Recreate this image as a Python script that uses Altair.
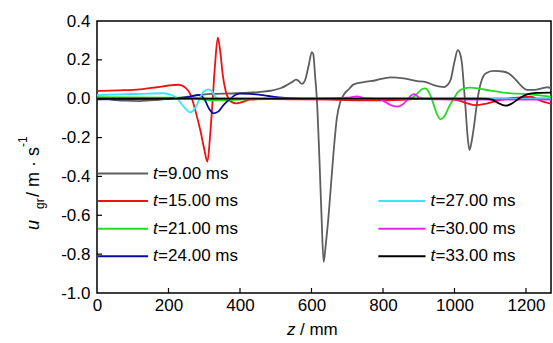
import altair as alt
import pandas as pd

# ---- data ----
labels = ["9.00", "15.00", "21.00", "24.00", "27.00", "30.00", "33.00"]
colors = ["#5e5e5e", "#ee1111", "#22dd22", "#0a0aa8", "#33e8f8", "#ee22ee", "#000000"]

z9 = [0, 40, 74, 120, 167, 214, 260, 317, 391, 450, 485, 515, 531, 545, 557, 565, 573, 582, 592, 601, 605, 610, 615,
      622, 628, 634, 640, 647, 653, 662, 671, 680, 690, 705, 718, 746, 780, 821, 858, 896, 920, 942, 960, 970, 980,
      989, 1000, 1009, 1016, 1021, 1026, 1031, 1036, 1042, 1048, 1054, 1061, 1068, 1077, 1087, 1110, 1135, 1152,
      1165, 1176, 1190, 1203, 1220, 1232, 1250, 1260, 1270]
v9 = [0.007, -0.004, -0.010, -0.012, -0.007, 0.002, 0.012, 0.025, 0.028, 0.034, 0.041, 0.055, 0.07, 0.085, 0.098,
      0.09, 0.076, 0.095, 0.17, 0.24, 0.23, 0.12, 0.0,
      -0.3, -0.6, -0.84, -0.75, -0.62, -0.48, -0.27, -0.10, -0.02, 0.02, 0.05, 0.074, 0.085, 0.095, 0.11, 0.105,
      0.091, 0.085, 0.07, 0.062, 0.06, 0.07,
      0.096, 0.19, 0.25, 0.23, 0.18, 0.07, -0.05, -0.18, -0.264, -0.22, -0.15, -0.05, 0.036, 0.10, 0.13, 0.143,
      0.14, 0.13, 0.11, 0.088, 0.06, 0.045, 0.045, 0.048, 0.056, 0.059, 0.053]

z15 = [0, 60, 120, 167, 200, 228, 245, 262, 275, 290, 300, 309, 316, 323, 330, 338, 345, 352, 360, 368, 380, 391,
       405, 428, 470, 550, 650, 720, 800, 870, 905, 950, 1000, 1030, 1059, 1090, 1137, 1175, 1213, 1240, 1270]
v15 = [0.04, 0.043, 0.048, 0.059, 0.068, 0.072, 0.06, 0.02, -0.06, -0.17, -0.26, -0.324, -0.2, -0.02, 0.17, 0.314,
       0.24, 0.12, 0.04, 0.0, -0.02, -0.024, -0.018, -0.005, -0.002, -0.003, -0.004, -0.008, -0.008, -0.004, 0.0,
       -0.002, -0.005, -0.02, -0.033, -0.025, -0.003, 0.005, 0.01, -0.01, -0.027]

z21 = [0, 200, 280, 300, 330, 360, 400, 450, 500, 600, 700, 800, 860, 880, 895, 910, 918, 928, 940, 950, 961, 972,
       985, 998, 1010, 1025, 1045, 1070, 1100, 1138, 1175, 1213, 1249, 1270]
v21 = [0.008, 0.006, 0.003, -0.006, -0.008, -0.008, -0.005, -0.002, 0.0, 0.0, 0.0, 0.0, 0.0, 0.004, 0.025, 0.05,
       0.053, 0.035, -0.02, -0.075, -0.105, -0.09, -0.04, 0.0, 0.035, 0.052, 0.057, 0.052, 0.042, 0.031, 0.026,
       0.023, 0.015, 0.01]

z24 = [0, 100, 200, 260, 284, 300, 313, 326, 340, 355, 373, 390, 400, 430, 457, 480, 503, 540, 600, 800, 1000,
       1270]
v24 = [-0.003, -0.002, 0.0, 0.01, 0.02, 0.0, -0.05, -0.075, -0.065, -0.03, 0.0, 0.022, 0.026, 0.025, 0.02, 0.014,
       0.008, 0.003, 0.0, 0.0, 0.0, 0.0]

z27 = [0, 60, 120, 185, 209, 225, 240, 252, 260, 268, 280, 292, 300, 312, 320, 328, 335, 350, 400, 600, 900, 1270]
v27 = [0.019, 0.022, 0.025, 0.028, 0.019, 0.0, -0.035, -0.06, -0.07, -0.063, -0.03, 0.02, 0.04, 0.048, 0.04, 0.02,
       0.003, 0.0, 0.0, 0.0, 0.0, 0.0]

z30 = [0, 300, 600, 700, 727, 750, 790, 805, 820, 839, 855, 868, 878, 886, 895, 905, 950, 1000, 1100, 1200, 1270]
v30 = [0.002, 0.0, 0.0, 0.005, 0.012, 0.003, -0.002, -0.015, -0.032, -0.041, -0.03, -0.005, 0.015, 0.024, 0.015,
       0.0, -0.003, -0.004, -0.005, -0.005, -0.005]

z33 = [0, 300, 600, 900, 1000, 1080, 1105, 1120, 1143, 1160, 1180, 1203, 1230, 1270]
v33 = [0.0, 0.0, 0.0, 0.0, 0.0, 0.0, -0.005, -0.02, -0.036, -0.025, 0.0, 0.022, 0.03, 0.031]

series_z = [z9, z15, z21, z24, z27, z30, z33]
series_v = [v9, v15, v21, v24, v27, v30, v33]

x_ticks = [0, 200, 400, 600, 800, 1000, 1200]
y_ticks = [-1.0, -0.8, -0.6, -0.4, -0.2, 0.0, 0.2, 0.4]

FONT = "Liberation Sans"
FS = 17
W, H = 454, 272
XDOM = [0, 1270]
YDOM = [-1.0, 0.4]

xscale = alt.Scale(domain=XDOM, nice=False, zero=False)
yscale = alt.Scale(domain=YDOM, nice=False, zero=False)

xaxis = alt.Axis(values=x_ticks, format="d", ticks=False, domain=False, grid=False, title=None, labelFont=FONT,
                 labelFontSize=FS, labelColor="black", labelPadding=4, labelFlush=False)
yaxis = alt.Axis(values=y_ticks, ticks=False, domain=False, grid=False, title=None, labelFont=FONT,
                 labelFontSize=FS, labelColor="black", labelPadding=7,
                 labelExpr="datum.value < -0.0001 ? '-' + format(-datum.value, '.1f') : format(abs(datum.value), '.1f')")


def X(field):
    return alt.X(field, scale=xscale, axis=xaxis)


def Y(field):
    return alt.Y(field, scale=yscale, axis=yaxis)


layers = []
for i, (zs, vs) in enumerate(zip(series_z, series_v)):
    df = pd.DataFrame({"z": zs, "v": vs})
    layers.append(alt.Chart(df).mark_line(interpolate="monotone", strokeWidth=1.8, clip=True,
                                          color=colors[i]).encode(x=X("z:Q"), y=Y("v:Q"), order="z:Q"))

# inward tick marks
xt = pd.DataFrame({"t": x_ticks[1:]})
layers.append(alt.Chart(xt).mark_rule(color="black", strokeWidth=1.2).encode(
    x=X("t:Q"), y=alt.value(H), y2=alt.value(H - 5)))
yt = pd.DataFrame({"t": y_ticks[1:-1]})
layers.append(alt.Chart(yt).mark_rule(color="black", strokeWidth=1.2).encode(
    y=Y("t:Q"), x=alt.value(0), x2=alt.value(5)))

# legend (two columns inside the plot)
rows_y = [-0.385, -0.527, -0.669, -0.811]
leg = []
for i, lab in enumerate(labels):
    if i < 4:
        x1, x2, xtx, yy = 3, 143, 157, rows_y[i]
    else:
        x1, x2, xtx, yy = 787, 919, 933, rows_y[i - 3]
    leg.append({"label": lab, "x1": x1, "x2": x2, "xt": xtx, "y": yy, "rest": "=" + lab + " ms"})
legdf = pd.DataFrame(leg)
cscale = alt.Scale(domain=labels, range=colors)
layers.append(alt.Chart(legdf).mark_rule(strokeWidth=2).encode(
    x=X("x1:Q"), x2="x2:Q", y=Y("y:Q"),
    color=alt.Color("label:N", scale=cscale, legend=None)))
layers.append(alt.Chart(legdf).mark_text(align="left", baseline="middle", font=FONT, fontSize=FS,
                                         fontStyle="italic", color="black").encode(
    x=X("xt:Q"), y=Y("y:Q"), text=alt.value("t")))
layers.append(alt.Chart(legdf).mark_text(align="left", baseline="middle", font=FONT, fontSize=FS,
                                         dx=5, color="black").encode(
    x=X("xt:Q"), y=Y("y:Q"), text="rest:N"))


# axis titles (with italic symbols, subscript and superscript)
def label(txt, x, y, size=FS, italic=False, angle=0):
    kw = dict(align="left", baseline="alphabetic", font=FONT, fontSize=size, color="black")
    if italic:
        kw["fontStyle"] = "italic"
    if angle:
        kw["angle"] = angle
    return alt.Chart(pd.DataFrame({"s": [txt]})).mark_text(**kw).encode(
        x=alt.value(x), y=alt.value(y), text="s:N")


layers.append(label("z", 190, 314, italic=True))
layers.append(label("/ mm", 203, 314))
layers.append(label("u", -58.5, 209, size=18, italic=True, angle=270))
layers.append(label("gr", -53.5, 188, size=12, angle=270))
layers.append(label("/ m · s", -58.5, 176, size=18, angle=270))
layers.append(label("-1", -70.5, 126, size=12, angle=270))

chart = alt.layer(*layers).properties(
    width=W, height=H,
    autosize=alt.AutoSizeParams(type="none"),
    padding={"left": 97, "top": 21, "right": 2, "bottom": 50},
    background="white",
).configure_view(stroke="black", strokeWidth=1.5)

chart.save("out.html", embed_options={"renderer": "svg", "actions": False})
